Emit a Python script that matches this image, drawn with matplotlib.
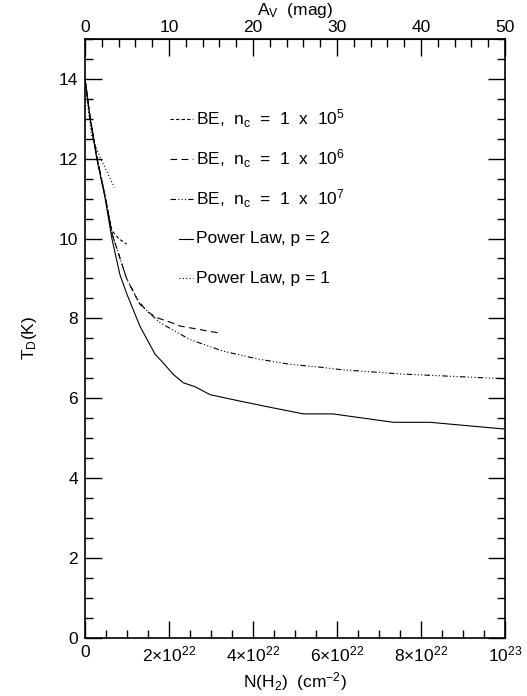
import matplotlib
matplotlib.use("Agg")
import matplotlib.pyplot as plt
from matplotlib.ticker import MultipleLocator, FixedLocator, FuncFormatter
import numpy as np

plt.rcParams['font.family'] = ['Liberation Sans', 'DejaVu Sans']
plt.rcParams['mathtext.fontset'] = 'custom'
plt.rcParams['mathtext.rm'] = 'Liberation Sans'
plt.rcParams['mathtext.it'] = 'Liberation Sans:italic'

# column density in units of 1e22 cm^-2, dust temperature in K
be5_n = [0, 0.12, 0.28, 0.48, 0.64, 0.8, 0.99]
be5_t = [14.0, 13.05, 12.05, 11.05, 10.2, 10.0, 9.86]

be6_n = [0, 0.12, 0.28, 0.48, 0.65, 0.99, 1.23, 1.47, 1.71, 2.1, 2.26, 3.17]
be6_t = [14.0, 13.05, 12.05, 11.05, 10.1, 9.0, 8.5, 8.18, 8.02, 7.88, 7.81, 7.64]

be7_n = [0, 0.12, 0.28, 0.48, 0.65, 0.99, 1.31, 1.79, 2.5, 3.29, 4.09, 4.88,
         5.6, 6.07, 7.5, 10.0]
be7_t = [14.0, 13.05, 12.05, 11.05, 10.1, 9.0, 8.35, 7.89, 7.47, 7.18, 6.99,
         6.85, 6.78, 6.72, 6.61, 6.49]

pl2_n = [0, 0.12, 0.28, 0.48, 0.64, 0.83, 1.0, 1.31, 1.67, 1.86, 2.1, 2.34,
         2.62, 2.98, 3.69, 4.48, 5.2, 5.9, 7.34, 8.21, 10.0]
pl2_t = [14.0, 13.0, 12.0, 11.0, 10.0, 9.1, 8.6, 7.8, 7.1, 6.89, 6.6, 6.39,
         6.29, 6.09, 5.93, 5.76, 5.61, 5.61, 5.4, 5.4, 5.23]

pl1_n = [0, 0.08, 0.16, 0.36, 0.70]
pl1_t = [14.0, 13.2, 12.57, 12.03, 11.28]

labels = [r"BE,  n$_{\rm c}$  =  1  x  10$^{5}$",
          r"BE,  n$_{\rm c}$  =  1  x  10$^{6}$",
          r"BE,  n$_{\rm c}$  =  1  x  10$^{7}$",
          "Power Law, p = 2",
          "Power Law, p = 1"]
legend_y = [13, 12, 11, 10, 9]

av_ticks = [0, 10, 20, 30, 40, 50]

styles = [(0, (3, 2)), (0, (6, 4)), (0, (5, 2, 1, 2, 1, 2, 1, 2)), '-', (0, (1, 2))]

fig = plt.figure(figsize=(5.27, 6.96), dpi=100)
ax = fig.add_axes([0.1613, 0.0833, 0.797, 0.861])

series = [(be5_n, be5_t), (be6_n, be6_t), (be7_n, be7_t), (pl2_n, pl2_t), (pl1_n, pl1_t)]
for (n, t), ls in zip(series, styles):
    ax.plot(np.array(n) * 1e22, t, color='black', lw=0.8, linestyle=ls)

# hand-drawn key, like the original
for i, (lab, yy, ls) in enumerate(zip(labels, legend_y, styles)):
    x0 = 0.202 if i < 3 else 0.224
    ax.plot([x0, 0.257], [yy, yy], color='black', lw=0.8, linestyle=ls,
            transform=ax.get_yaxis_transform())
    ax.text(0.264, yy, lab, fontsize=12.5, va='center', ha='left',
            transform=ax.get_yaxis_transform())

ax.set_xlim(0, 1e23)
ax.set_ylim(0, 15)

def nfmt(x, pos):
    if x == 0:
        return "0"
    if abs(x - 1e23) < 1e20:
        return r"10$^{23}$"
    return r"%d$\times$10$^{22}$" % round(x / 1e22)

ax.xaxis.set_major_locator(MultipleLocator(2e22))
ax.xaxis.set_minor_locator(MultipleLocator(0.5e22))
ax.xaxis.set_major_formatter(FuncFormatter(nfmt))
ax.yaxis.set_major_locator(MultipleLocator(2))
ax.yaxis.set_minor_locator(MultipleLocator(0.5))

ax.tick_params(which='both', direction='in', top=False, right=True, labelsize=12.5, width=1)
ax.tick_params(which='major', length=12.5, pad=5)
ax.tick_params(which='minor', length=6)
for s in ax.spines.values():
    s.set_linewidth(1.2)

sec = ax.secondary_xaxis('top', functions=(lambda x: x / 2e21, lambda a: a * 2e21))
sec.xaxis.set_major_locator(FixedLocator(av_ticks))
sec.xaxis.set_minor_locator(FixedLocator(np.arange(0, 51, 2)))
sec.tick_params(which='both', direction='in', labelsize=12.5, width=1)
sec.tick_params(which='major', length=12.5, pad=3)
sec.tick_params(which='minor', length=6)
sec.set_xlabel(r"A$_{\rm V}$  (mag)", fontsize=12.5, labelpad=3)

ax.set_xlabel(r"N(H$_2$)  (cm$^{-2}$)", fontsize=12.5, labelpad=4)
ax.set_ylabel(r"T$_{\rm D}$(K)", fontsize=12.5, labelpad=14)

fig.savefig("out.png", dpi=100)
